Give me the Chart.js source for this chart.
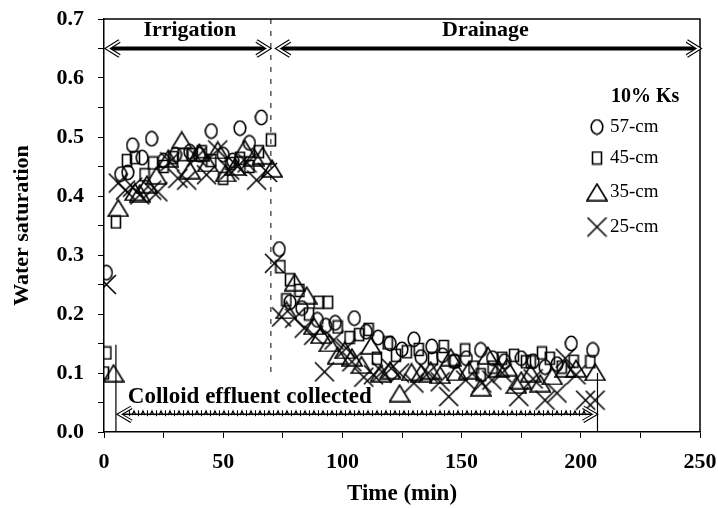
<html>

<head>
    <script src="https://cdn.jsdelivr.net/npm/chart.js@4.4.1/dist/chart.umd.min.js"></script>
    <style>
        body {
            margin: 0;
            background-color: #ffffff;
        }

        #wrap {
            width: 718px;
            height: 508px;
        }
    </style>
</head>

<body>
    <div id="wrap"><canvas id="myChart" width="718" height="508"></canvas></div>
</body>
<script>

    // sampling times (min) and water saturation for each depth
    var time57 = [1, 7, 10, 12, 16, 20, 25, 30, 36, 40, 45, 50, 54, 57, 61, 66,
        73.5, 78, 83, 89.5, 93, 97, 105, 110, 115, 120, 125, 130, 133, 137.5, 142, 147, 152, 158, 163, 168, 175, 180, 185, 190, 196, 205];
    var sat57 = [0.27, 0.437, 0.44, 0.486, 0.465, 0.497, 0.46, 0.47, 0.475, 0.47, 0.51, 0.47, 0.46, 0.515, 0.49, 0.533,
        0.31, 0.22, 0.21, 0.19, 0.18, 0.185, 0.193, 0.17, 0.16, 0.15, 0.14, 0.157, 0.127, 0.145, 0.13, 0.12, 0.125, 0.139, 0.125, 0.12, 0.125, 0.12, 0.11, 0.115, 0.15, 0.139];

    var time45 = [0, 1, 5, 9.6, 13, 17, 20.6, 25, 29, 33, 37, 41, 45, 50, 53, 57, 61, 65, 70,
        74, 76.5, 78, 82, 86, 90, 94, 98, 103, 107, 111, 114.5, 119, 122.5, 127, 132, 138, 142.5, 147, 151.5, 155, 158, 163, 167, 172, 177, 179, 183.7, 187, 192, 197, 204];
    var sat45 = [0.10, 0.134, 0.356, 0.46, 0.465, 0.436, 0.456, 0.45, 0.465, 0.47, 0.47, 0.475, 0.46, 0.43, 0.455, 0.464, 0.45, 0.475, 0.495,
        0.28, 0.224, 0.258, 0.24, 0.2, 0.22, 0.22, 0.178, 0.16, 0.165, 0.174, 0.125, 0.151, 0.13, 0.136, 0.14, 0.125, 0.145, 0.12, 0.139, 0.11, 0.097, 0.11, 0.125, 0.13, 0.119, 0.119, 0.134, 0.125, 0.11, 0.12, 0.119];

    var time35 = [4, 6, 13, 15, 18, 22, 27, 32.6, 36, 40, 43.5, 47.7, 51, 55, 59, 63, 66.5, 70.5,
        76.5, 80, 85, 88, 91, 94.5, 98, 101, 104, 108, 112, 116, 120, 124, 129, 133, 137, 141, 145.5, 148, 153, 158, 161, 165.5, 169, 173, 175, 179, 183, 188, 193.5, 198, 206];
    var sat35 = [0.10, 0.38, 0.407, 0.405, 0.42, 0.435, 0.464, 0.495, 0.444, 0.474, 0.456, 0.478, 0.439, 0.45, 0.481, 0.466, 0.469, 0.447,
        0.207, 0.254, 0.232, 0.18, 0.165, 0.151, 0.13, 0.139, 0.127, 0.114, 0.147, 0.1, 0.105, 0.066, 0.102, 0.1, 0.105, 0.097, 0.127, 0.102, 0.105, 0.076, 0.13, 0.108, 0.11, 0.08, 0.088, 0.1, 0.083, 0.095, 0.108, 0.108, 0.102];

    var time25 = [1, 6, 9, 12, 15, 20, 22.6, 27.6, 31, 34.7, 39, 43, 47.7, 52.7, 56, 60, 64, 68.6,
        71.5, 74.5, 80, 84, 88, 92.5, 96.5, 101.6, 104, 109, 113, 116.6, 120.5, 124, 130, 136, 141, 144.6, 151.7, 158.5, 162.7, 167, 174, 180, 185, 190, 193.5, 198, 202, 206];
    var sat25 = [0.25, 0.422, 0.41, 0.415, 0.402, 0.41, 0.407, 0.458, 0.43, 0.427, 0.466, 0.436, 0.478, 0.444, 0.45, 0.456, 0.427, 0.44,
        0.286, 0.195, 0.193, 0.176, 0.164, 0.102, 0.156, 0.142, 0.119, 0.093, 0.097, 0.102, 0.108, 0.10, 0.083, 0.10, 0.085, 0.06, 0.088, 0.083, 0.088, 0.1, 0.06, 0.09, 0.054, 0.066, 0.125, 0.097, 0.054, 0.054];

    var seriesNames = ['57-cm', '45-cm', '35-cm', '25-cm'];
    var xTicks = [0, 50, 100, 150, 200, 250];
    var yTicks = [0.0, 0.1, 0.2, 0.3, 0.4, 0.5, 0.6, 0.7];

    // phase arrows and markers, in data units: [start time, end time, saturation]
    var irrigationArrow = [1.5, 69, 0.65];
    var drainageArrow = [73, 249.5, 0.65];
    var effluentArrow = [6.5, 206, 0.03];
    var phaseSplit = [70, 0.1];      // dashed divider down to this saturation
    var collectStart = [5, 0.148];
    var collectEnd = [207, 0.10];

    var serif = "'Liberation Serif', 'Times New Roman', serif";

    function toPoints(times, values) {
        var pts = [];
        for (var i = 0; i < times.length; i++) {
            pts.push({ x: times[i], y: values[i] });
        }
        return pts;
    }

    // open black markers drawn on small canvases
    function makeMarker(kind) {
        var c = document.createElement('canvas');
        var g;
        if (kind == 'circle') { c.width = 14; c.height = 17; }
        if (kind == 'square') { c.width = 12; c.height = 15; }
        if (kind == 'triangle') { c.width = 22; c.height = 19; }
        if (kind == 'cross') { c.width = 21; c.height = 21; }
        g = c.getContext('2d');
        g.strokeStyle = '#000';
        g.lineWidth = 1.6;
        g.beginPath();
        if (kind == 'circle') {
            g.ellipse(7, 8.5, 5.8, 7.2, 0, 0, Math.PI * 2);
        } else if (kind == 'square') {
            g.rect(1.5, 1.5, 9, 12);
        } else if (kind == 'triangle') {
            g.moveTo(1, 18);
            g.lineTo(11, 1.5);
            g.lineTo(21, 18);
            g.closePath();
        } else {
            g.moveTo(1, 1);
            g.lineTo(20, 20);
            g.moveTo(20, 1);
            g.lineTo(1, 20);
        }
        g.stroke();
        return c;
    }

    var markers = [makeMarker('circle'), makeMarker('square'), makeMarker('triangle'), makeMarker('cross')];

    function hollowHead(ctx, x, y, dir, len, half, w) {
        ctx.beginPath();
        ctx.moveTo(x + dir * len, y - half);
        ctx.lineTo(x, y);
        ctx.lineTo(x + dir * len, y + half);
        ctx.lineJoin = 'miter';
        ctx.strokeStyle = '#000';
        ctx.lineWidth = w;
        ctx.stroke();
        ctx.strokeStyle = '#fff';
        ctx.lineWidth = w - 2.2;
        ctx.stroke();
    }

    var overlayPlugin = {
        id: 'overlay',
        afterDraw: function (chart) {
            var ctx = chart.ctx;
            var xs = chart.scales.x;
            var ys = chart.scales.y;
            var area = chart.chartArea;
            function px(t) { return xs.getPixelForValue(t); }
            function py(v) { return ys.getPixelForValue(v); }

            ctx.save();

            // top and right edge of the frame
            ctx.strokeStyle = '#000';
            ctx.lineWidth = 1.5;
            ctx.beginPath();
            ctx.moveTo(area.left, area.top);
            ctx.lineTo(area.right, area.top);
            ctx.lineTo(area.right, area.bottom);
            ctx.stroke();

            // irrigation / drainage divider
            ctx.lineWidth = 1;
            ctx.setLineDash([5, 7]);
            ctx.beginPath();
            ctx.moveTo(px(phaseSplit[0]), area.top);
            ctx.lineTo(px(phaseSplit[0]), py(phaseSplit[1]));
            ctx.stroke();
            ctx.setLineDash([]);

            // start / end of effluent collection
            ctx.lineWidth = 1.2;
            ctx.beginPath();
            ctx.moveTo(px(collectStart[0]), py(0));
            ctx.lineTo(px(collectStart[0]), py(collectStart[1]));
            ctx.moveTo(px(collectEnd[0]), py(0));
            ctx.lineTo(px(collectEnd[0]), py(collectEnd[1]));
            ctx.stroke();

            // phase arrows
            [irrigationArrow, drainageArrow].forEach(function (a) {
                var x1 = px(a[0]), x2 = px(a[1]), y = py(a[2]);
                ctx.strokeStyle = '#000';
                ctx.lineWidth = 4;
                ctx.beginPath();
                ctx.moveTo(x1 + 3, y);
                ctx.lineTo(x2 - 3, y);
                ctx.stroke();
                hollowHead(ctx, x1, y, 1, 12, 7.5, 4);
                hollowHead(ctx, x2, y, -1, 12, 7.5, 4);
            });

            // effluent arrow with its ticked shaft
            var ex1 = px(effluentArrow[0]), ex2 = px(effluentArrow[1]), ey = py(effluentArrow[2]);
            ctx.strokeStyle = '#000';
            ctx.lineWidth = 1.5;
            ctx.beginPath();
            ctx.moveTo(ex1 + 3, ey);
            ctx.lineTo(ex2 - 3, ey);
            ctx.stroke();
            ctx.lineWidth = 1.1;
            ctx.beginPath();
            for (var sx = ex1 + 10; sx < ex2 - 10; sx += 9) {
                ctx.moveTo(sx, ey - 4);
                ctx.lineTo(sx, ey + 2);
                ctx.moveTo(sx + 2.5, ey + 1);
                ctx.lineTo(sx + 4.5, ey - 3.5);
                ctx.lineTo(sx + 6.5, ey + 1);
            }
            ctx.stroke();
            hollowHead(ctx, ex1, ey, 1, 12, 7, 3.8);
            hollowHead(ctx, ex2, ey, -1, 12, 7, 3.8);

            // phase and effluent labels
            ctx.fillStyle = '#000';
            ctx.textBaseline = 'middle';
            ctx.textAlign = 'center';
            ctx.font = 'bold 22px ' + serif;
            ctx.fillText('Irrigation', px(36), py(0.681));
            ctx.fillText('Drainage', px(160), py(0.681));
            ctx.textAlign = 'left';
            ctx.font = 'bold 23px ' + serif;
            ctx.fillText('Colloid effluent collected', px(10), py(0.059));

            // legend
            var lx = area.right - 103;
            ctx.font = 'bold 20px ' + serif;
            ctx.fillText('10% Ks', lx + 14, 97);
            ctx.font = '19px ' + serif;
            var rowY = [127, 158, 192, 227];
            for (var i = 0; i < seriesNames.length; i++) {
                var m = markers[i];
                ctx.drawImage(m, lx - m.width / 2, rowY[i] - m.height / 2);
                ctx.fillText(seriesNames[i], lx + 13, rowY[i]);
            }

            ctx.restore();
        }
    };

    function makeSet(label, times, values, marker) {
        return {
            label: label,
            data: toPoints(times, values),
            showLine: false,
            pointStyle: marker,
            pointRadius: 7,
            borderColor: '#000',
            backgroundColor: 'rgba(0,0,0,0)'
        };
    }

    var paintingCanvas = document.getElementById('myChart').getContext('2d');
    var chart = new Chart(paintingCanvas, {
        type: 'scatter',
        data: {
            datasets: [
                makeSet(seriesNames[0], time57, sat57, markers[0]),
                makeSet(seriesNames[1], time45, sat45, markers[1]),
                makeSet(seriesNames[2], time35, sat35, markers[2]),
                makeSet(seriesNames[3], time25, sat25, markers[3])
            ]
        },
        options: {
            responsive: false,
            animation: false,
            layout: { padding: { left: 0, top: 19, right: 18, bottom: 0 } },
            plugins: {
                legend: { display: false },
                tooltip: { enabled: false }
            },
            scales: {
                x: {
                    type: 'linear',
                    min: 0,
                    max: 250,
                    afterFit: function (scale) {
                        scale.height = 76;
                        scale.paddingLeft = 0;
                        scale.paddingRight = 0;
                    },
                    border: { display: true, color: '#000', width: 1.5 },
                    grid: { drawOnChartArea: false, drawTicks: true, tickLength: 6, color: '#000', lineWidth: 1 },
                    ticks: {
                        stepSize: 25,
                        autoSkip: false,
                        maxRotation: 0,
                        padding: 11,
                        color: '#000',
                        font: { family: serif, size: 22, weight: 'bold' },
                        callback: function (v) { return xTicks.indexOf(v) >= 0 ? String(v) : ''; }
                    },
                    title: {
                        display: true,
                        text: 'Time (min)',
                        color: '#000',
                        padding: { top: 0, bottom: 0 },
                        font: { family: serif, size: 23, weight: 'bold' }
                    }
                },
                y: {
                    type: 'linear',
                    min: 0,
                    max: 0.7,
                    afterFit: function (scale) {
                        scale.width = 104;
                        scale.paddingTop = 0;
                        scale.paddingBottom = 0;
                    },
                    border: { display: true, color: '#000', width: 1.5 },
                    grid: { drawOnChartArea: false, drawTicks: true, tickLength: 6, color: '#000', lineWidth: 1 },
                    ticks: {
                        stepSize: 0.05,
                        autoSkip: false,
                        padding: 14,
                        color: '#000',
                        font: { family: serif, size: 22, weight: 'bold' },
                        callback: function (v) {
                            var k = Math.round(v * 100);
                            return k % 10 === 0 ? yTicks[k / 10].toFixed(1) : '';
                        }
                    },
                    title: {
                        display: true,
                        text: 'Water saturation',
                        color: '#000',
                        padding: { top: 9, bottom: 0 },
                        font: { family: serif, size: 22, weight: 'bold' }
                    }
                }
            }
        },
        plugins: [overlayPlugin]
    });

</script>

</html>
